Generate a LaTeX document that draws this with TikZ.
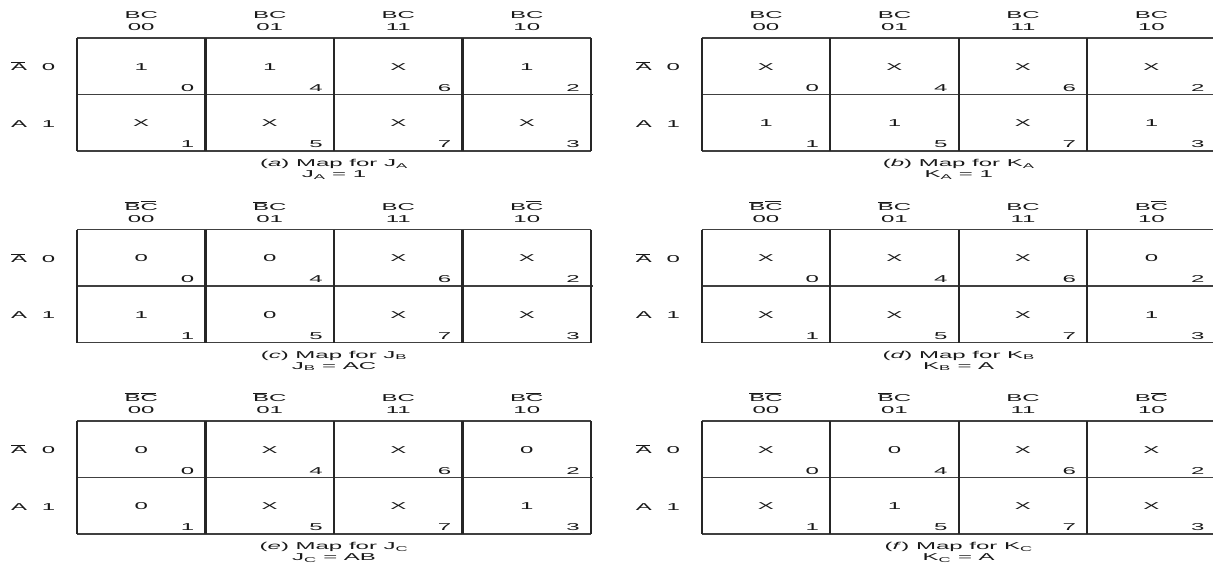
\documentclass[tikz,border=0pt]{standalone}
\usepackage{fontspec}
\setmainfont{Liberation Sans}[FakeStretch=2.4]
\newcommand{\ovl}[1]{$\overline{\mbox{#1}\kern-2pt}\kern2pt$}
\newcommand{\colw}{128.5}
\newcommand{\rowh}{56.5}

% one map: name, top left corner, column heads, row 0, row 1, caption, equation
\newcommand{\kmap}[7]{%
\begin{scope}[shift={#2}]
  \draw[hline] (0,0) -- (4*\colw,0) (0,\rowh) -- (4*\colw+1.5,\rowh) (0,2*\rowh) -- (4*\colw,2*\rowh);
  \foreach \j in {0,...,4} \draw[vline] (\j*\colw,0) -- (\j*\colw,2*\rowh);
  \foreach \h [count=\j from 0] in {#3}
    \node[txt] (#1-h\j) at ({(\j+0.5)*\colw},-19.5) {\h};
  \foreach \c [count=\j from 0] in {00,01,11,10}
    \node[txt] (#1-c\j) at ({(\j+0.5)*\colw},-7.5) {\c};
  \node[txt, anchor=base west] (#1-ra) at (-66,32.5) {\ovl{A}};
  \node[txt] (#1-r0) at (-28.5,32.5) {0};
  \node[txt, anchor=base west] (#1-rb) at (-66,\rowh+32.5) {A};
  \node[txt] (#1-r1) at (-28.5,\rowh+32.5) {1};
  % cell values and cell numbers
  \foreach \v [count=\j from 0] in {#4}
    \node[txt] (#1-a\j) at ({(\j+0.5)*\colw},32) {\v};
  \foreach \v [count=\j from 0] in {#5}
    \node[txt] (#1-b\j) at ({(\j+0.5)*\colw},\rowh+32) {\v};
  \foreach \n [count=\j] in {0,4,6,2}
    \node[num] (#1-m\n) at (\j*\colw-11,\rowh-3.5) {\n};
  \foreach \n [count=\j] in {1,5,7,3}
    \node[num] (#1-m\n) at (\j*\colw-11,2*\rowh-3.5) {\n};
  % caption
  \node[txt] (#1-cap) at (2*\colw,2*\rowh+15.5) {#6};
  \node[txt] (#1-eq) at (2*\colw,2*\rowh+26.8) {#7};
\end{scope}}

\begin{document}
\begin{tikzpicture}[x=1pt, y=-1pt,
  every node/.style={font=\fontsize{10}{12}\selectfont, text=black!90},
  txt/.style={inner sep=0pt, anchor=base},
  num/.style={inner sep=0pt, anchor=base east},
  hline/.style={line width=1.1pt, draw=black!75},
  vline/.style={line width=2.2pt, draw=black!85}]
\useasboundingbox (0,0) rectangle (1213,566);
% J_A and K_A
\kmap{ja}{(77,38)}{BC,BC,BC,BC}{1,1,X,1}{X,X,X,X}
  {(\textit{a}) Map for J\textsubscript{A}}{J\textsubscript{A} = 1}
\kmap{ka}{(701.7,38)}{BC,BC,BC,BC}{X,X,X,X}{1,1,X,1}
  {(\textit{b}) Map for K\textsubscript{A}}{K\textsubscript{A} = 1}
% J_B and K_B
\kmap{jb}{(77,229.5)}{\ovl{B}\ovl{C},\ovl{B}C,BC,B\ovl{C}}{0,0,X,X}{1,0,X,X}
  {(\textit{c}) Map for J\textsubscript{B}}{J\textsubscript{B} = AC}
\kmap{kb}{(701.7,229.5)}{\ovl{B}\ovl{C},\ovl{B}C,BC,B\ovl{C}}{X,X,X,0}{X,X,X,1}
  {(\textit{d}) Map for K\textsubscript{B}}{K\textsubscript{B} = A}
% J_C and K_C
\kmap{jc}{(77,421)}{\ovl{B}\ovl{C},\ovl{B}C,BC,B\ovl{C}}{0,X,X,0}{0,X,X,1}
  {(\textit{e}) Map for J\textsubscript{C}}{J\textsubscript{C} = AB}
\kmap{kc}{(701.7,421)}{\ovl{B}\ovl{C},\ovl{B}C,BC,B\ovl{C}}{X,0,X,X}{X,1,X,X}
  {(\textit{f}) Map for K\textsubscript{C}}{K\textsubscript{C} = A}
\end{tikzpicture}
\end{document}
